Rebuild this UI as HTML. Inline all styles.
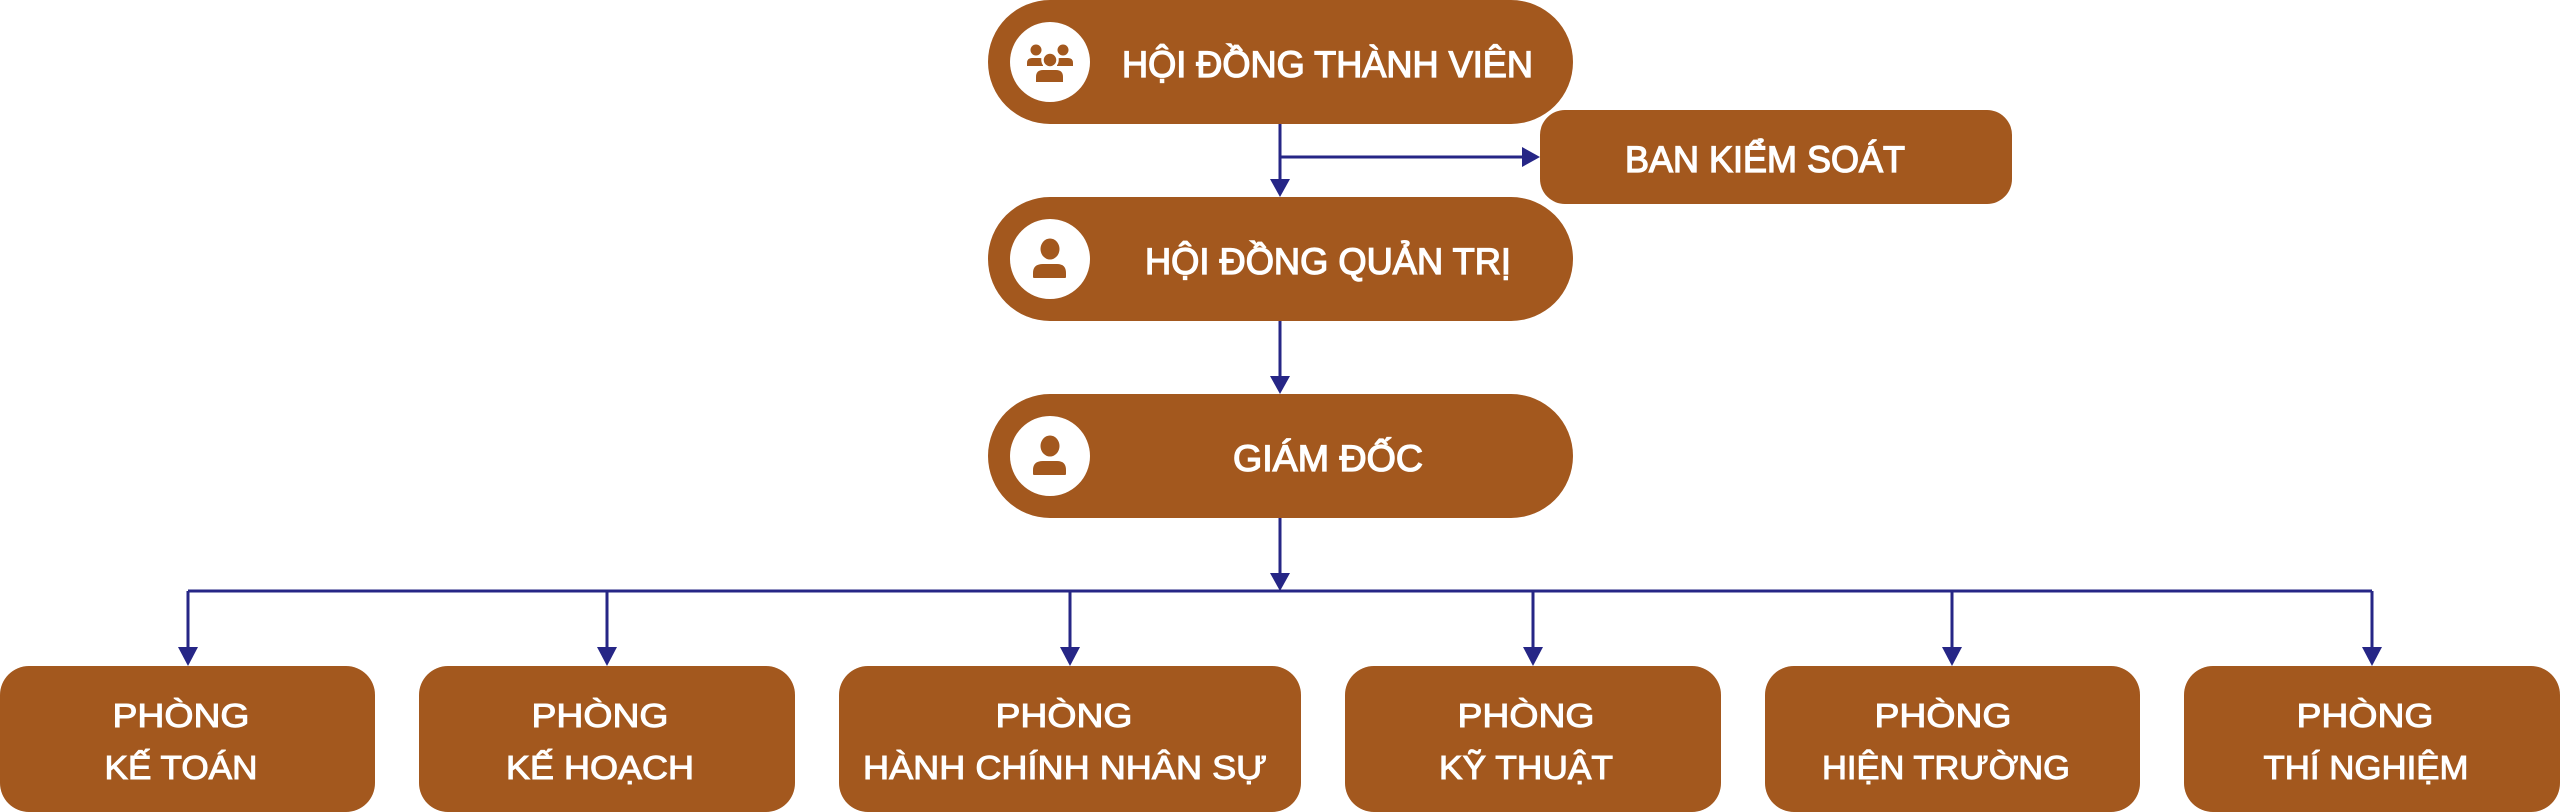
<!DOCTYPE html>
<html>
<head>
<meta charset="utf-8">
<style>
  html, body { margin: 0; padding: 0; background: #ffffff; }
  body { width: 2560px; height: 812px; overflow: hidden; }
  svg { display: block; }
  .t { font-family: "Liberation Sans", "DejaVu Sans", sans-serif; fill: #ffffff; stroke: #ffffff; stroke-width: 1.0; }
  .tb { stroke-width: 1.3; }
</style>
</head>
<body>
<svg width="2560" height="812" viewBox="0 0 2560 812" xmlns="http://www.w3.org/2000/svg">
  <rect x="0" y="0" width="2560" height="812" fill="#ffffff"/>

  <!-- Connectors -->
  <g stroke="#262686" stroke-width="3" fill="none">
    <line x1="1280" y1="124" x2="1280" y2="182"/>
    <line x1="1280" y1="157" x2="1525" y2="157"/>
    <line x1="1280" y1="321" x2="1280" y2="379"/>
    <line x1="1280" y1="518" x2="1280" y2="576"/>
    <line x1="188" y1="591" x2="2372" y2="591"/>
    <line x1="188" y1="591" x2="188" y2="650"/>
    <line x1="607" y1="591" x2="607" y2="650"/>
    <line x1="1070" y1="591" x2="1070" y2="650"/>
    <line x1="1533" y1="591" x2="1533" y2="650"/>
    <line x1="1952" y1="591" x2="1952" y2="650"/>
    <line x1="2372" y1="591" x2="2372" y2="650"/>
  </g>
  <g fill="#262686">
    <polygon points="1270,179 1290,179 1280,197"/>
    <polygon points="1522,147 1522,167 1540,157"/>
    <polygon points="1270,376 1290,376 1280,394"/>
    <polygon points="1270,573 1290,573 1280,591"/>
    <polygon points="178,647 198,647 188,666"/>
    <polygon points="597,647 617,647 607,666"/>
    <polygon points="1060,647 1080,647 1070,666"/>
    <polygon points="1523,647 1543,647 1533,666"/>
    <polygon points="1942,647 1962,647 1952,666"/>
    <polygon points="2362,647 2382,647 2372,666"/>
  </g>

  <!-- Top pill nodes -->
  <g fill="#A3581E">
    <rect x="988" y="0" width="585" height="124" rx="62" ry="62"/>
    <rect x="988" y="197" width="585" height="124" rx="62" ry="62"/>
    <rect x="988" y="394" width="585" height="124" rx="62" ry="62"/>
    <rect x="1540" y="110" width="472" height="94" rx="25" ry="25"/>
  </g>

  <!-- Icon circles -->
  <g fill="#ffffff">
    <circle cx="1050" cy="62" r="40"/>
    <circle cx="1050" cy="259" r="40"/>
    <circle cx="1050" cy="456" r="40"/>
  </g>

  <!-- Group icon (3 persons) -->
  <g fill="#A3581E">
    <circle cx="1036" cy="50" r="5.5"/>
    <circle cx="1063" cy="50" r="5.5"/>
    <path d="M1027,66 L1027,63 Q1027,58 1032,58 L1040,58 Q1043,58 1043,62 L1043,66 Z"/>
    <path d="M1057,66 L1057,62 Q1057,58 1060,58 L1068,58 Q1073,58 1073,63 L1073,66 Z"/>
    <circle cx="1050" cy="60" r="7.5" stroke="#ffffff" stroke-width="2.5"/>
    <path d="M1036,82 L1036,77 Q1036,70 1043,70 L1056,70 Q1063,70 1063,77 L1063,82 Z"/>
  </g>

  <!-- Single person icons -->
  <g fill="#A3581E">
    <ellipse cx="1050" cy="249" rx="9.5" ry="10.5"/>
    <path d="M1033,277 L1033,273 Q1033,264 1043,264 L1057,264 Q1066,264 1066,273 L1066,277 Q1066,278 1065,278 L1034,278 Q1033,278 1033,277 Z"/>
    <ellipse cx="1050" cy="446" rx="9.5" ry="10.5"/>
    <path d="M1033,474 L1033,470 Q1033,461 1043,461 L1057,461 Q1066,461 1066,470 L1066,474 Q1066,475 1065,475 L1034,475 Q1033,475 1033,474 Z"/>
  </g>

  <!-- Top texts -->
  <text class="t tb" x="1327.5" y="77" font-size="37" text-anchor="middle" textLength="411" lengthAdjust="spacingAndGlyphs">HỘI ĐỒNG THÀNH VIÊN</text>
  <text class="t tb" x="1328" y="274" font-size="37" text-anchor="middle" textLength="366" lengthAdjust="spacingAndGlyphs">HỘI ĐỒNG QUẢN TRỊ</text>
  <text class="t tb" x="1328" y="471" font-size="37" text-anchor="middle" textLength="190" lengthAdjust="spacingAndGlyphs">GIÁM ĐỐC</text>
  <text class="t tb" x="1765" y="172" font-size="37" text-anchor="middle" textLength="280" lengthAdjust="spacingAndGlyphs">BAN KIỂM SOÁT</text>

  <!-- Bottom boxes -->
  <g fill="#A3581E">
    <rect x="0" y="666" width="375" height="146" rx="29" ry="29"/>
    <rect x="419" y="666" width="376" height="146" rx="29" ry="29"/>
    <rect x="839" y="666" width="462" height="146" rx="29" ry="29"/>
    <rect x="1345" y="666" width="376" height="146" rx="29" ry="29"/>
    <rect x="1765" y="666" width="375" height="146" rx="29" ry="29"/>
    <rect x="2184" y="666" width="376" height="146" rx="29" ry="29"/>
  </g>

  <!-- Bottom texts -->
  <g font-size="33.5" text-anchor="middle">
    <text class="t" x="181" y="727" textLength="137" lengthAdjust="spacingAndGlyphs">PHÒNG</text>
    <text class="t" x="181" y="779" textLength="153" lengthAdjust="spacingAndGlyphs">KẾ TOÁN</text>

    <text class="t" x="600" y="727" textLength="137" lengthAdjust="spacingAndGlyphs">PHÒNG</text>
    <text class="t" x="600" y="779" textLength="188" lengthAdjust="spacingAndGlyphs">KẾ HOẠCH</text>

    <text class="t" x="1064" y="727" textLength="137" lengthAdjust="spacingAndGlyphs">PHÒNG</text>
    <text class="t" x="1065" y="779" textLength="404" lengthAdjust="spacingAndGlyphs">HÀNH CHÍNH NHÂN SỰ</text>

    <text class="t" x="1526" y="727" textLength="137" lengthAdjust="spacingAndGlyphs">PHÒNG</text>
    <text class="t" x="1526" y="779" textLength="174" lengthAdjust="spacingAndGlyphs">KỸ THUẬT</text>

    <text class="t" x="1943" y="727" textLength="137" lengthAdjust="spacingAndGlyphs">PHÒNG</text>
    <text class="t" x="1946" y="779" textLength="248" lengthAdjust="spacingAndGlyphs">HIỆN TRƯỜNG</text>

    <text class="t" x="2365" y="727" textLength="137" lengthAdjust="spacingAndGlyphs">PHÒNG</text>
    <text class="t" x="2366" y="779" textLength="205" lengthAdjust="spacingAndGlyphs">THÍ NGHIỆM</text>
  </g>
</svg>
</body>
</html>
